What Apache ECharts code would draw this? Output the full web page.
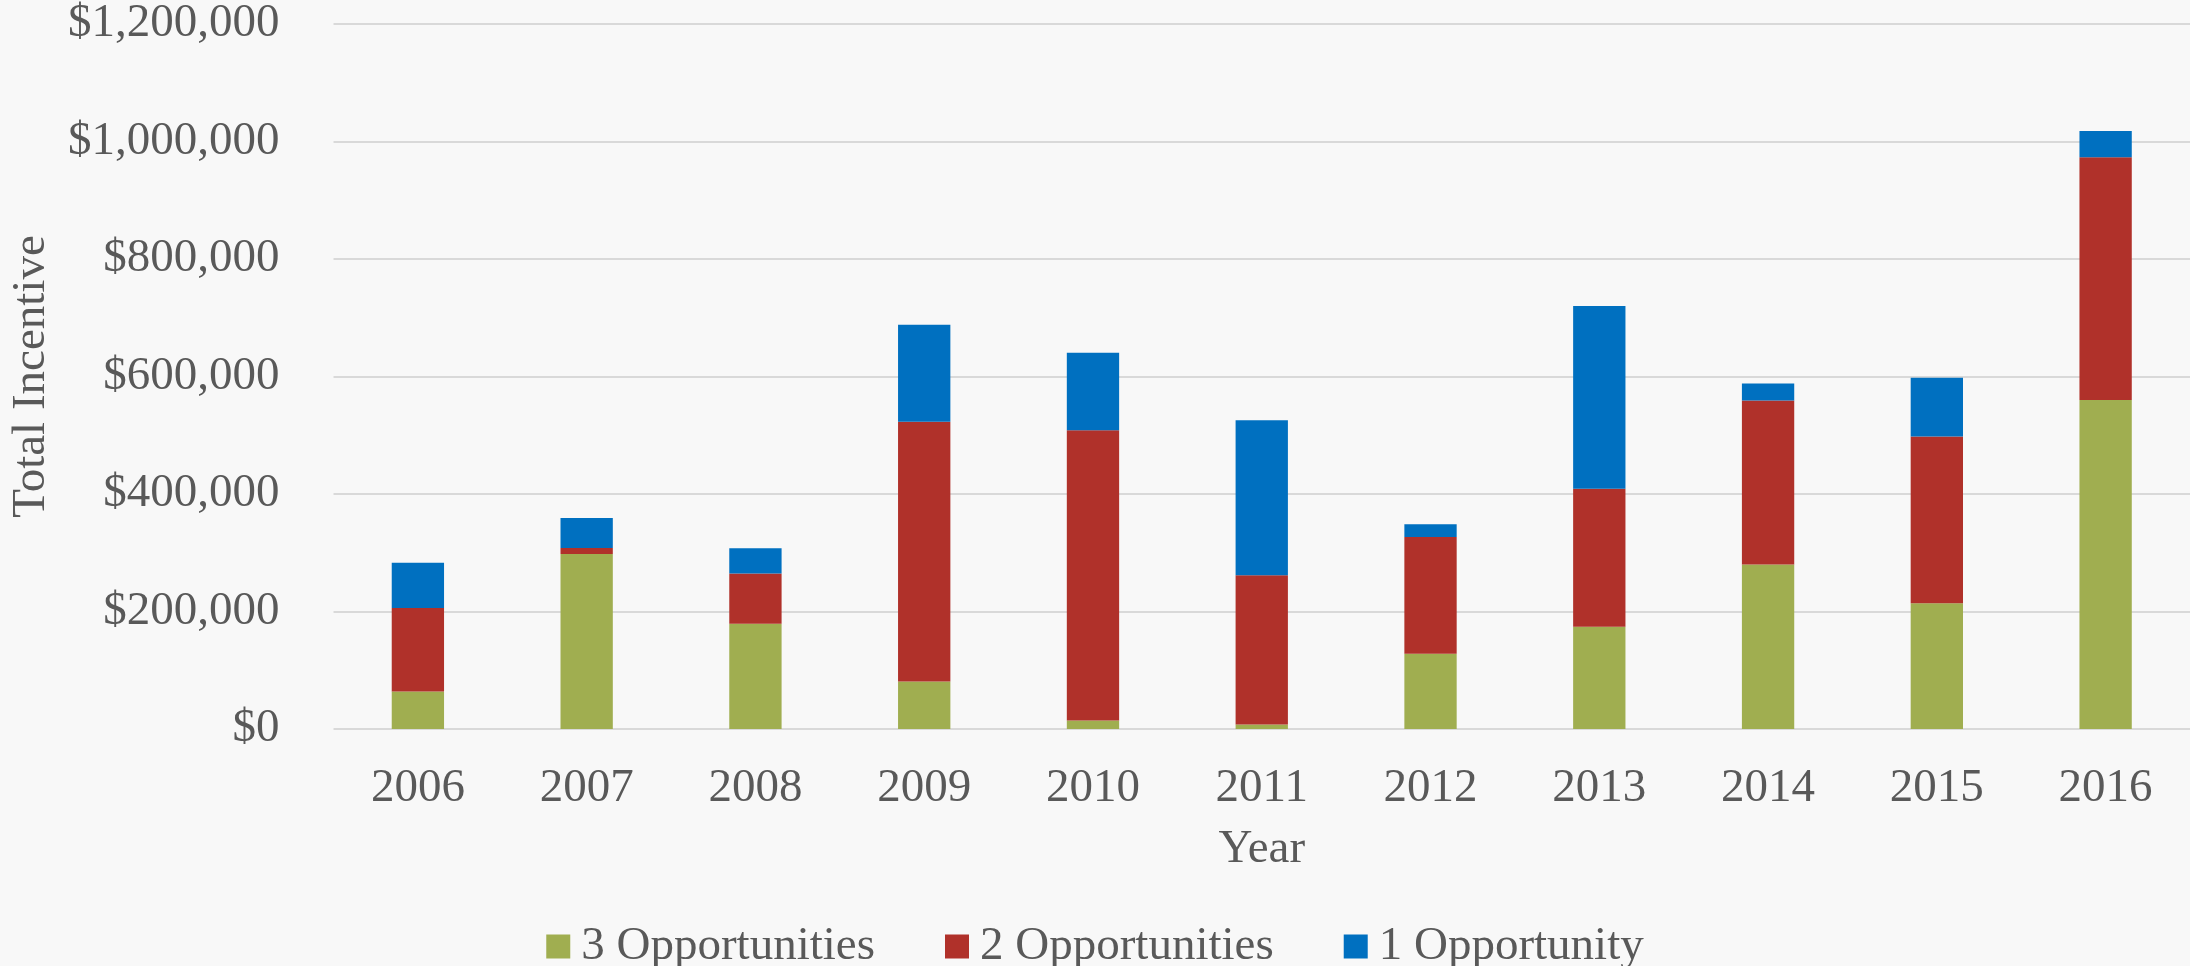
<!DOCTYPE html>
<html>
<head>
<meta charset="utf-8">
<script src="https://cdn.jsdelivr.net/npm/echarts@6/dist/echarts.min.js"></script>
<style>
    html, body { margin: 0; padding: 0; background: #f8f8f8; }
    #main { width: 2190px; height: 966px; }
</style>
</head>
<body>
<div id="main"></div>
<script>
// 年份
var years = ['2006', '2007', '2008', '2009', '2010', '2011', '2012', '2013', '2014', '2015', '2016']
// incentive per group
var threeOpp = [64000, 298000, 179000, 81000, 14500, 7700, 128000, 174000, 280000, 214000, 560000]
var twoOpp = [142000, 10000, 85500, 442000, 494000, 254000, 199000, 235000, 279000, 284000, 413000]
var oneOpp = [77000, 51000, 43000, 165000, 132000, 264000, 21500, 311000, 29000, 100000, 45000]
var seriesNames = ['3 Opportunities', '2 Opportunities', '1 Opportunity']
var yTicks = { min: 0, max: 1200000, interval: 200000 }

var font = 'Liberation Serif'
var textColor = '#595959'

var option = {
    backgroundColor: '#f8f8f8',
    textStyle: { fontFamily: font },
    color: ['#a0ae50', '#b0312a', '#0070c0'],
    grid: {
        left: 327,
        right: 0,
        top: 24,
        bottom: 237,
        containLabel: false
    },
    legend: {
        data: seriesNames,
        top: 918,
        left: 'center',
        itemWidth: 24,
        itemHeight: 24,
        itemGap: 70,
        icon: 'rect',
        textStyle: { fontFamily: font, fontSize: 47, color: textColor, padding: [0, 0, 0, 6] }
    },
    xAxis: {
        type: 'category',
        data: years,
        name: 'Year',
        nameLocation: 'middle',
        nameGap: 97,
        nameTextStyle: { fontFamily: font, fontSize: 47, color: textColor },
        axisLine: { show: false },
        axisTick: { show: false },
        axisLabel: { fontFamily: font, fontSize: 47, color: textColor, margin: 36 }
    },
    yAxis: {
        type: 'value',
        min: yTicks.min,
        max: yTicks.max,
        interval: yTicks.interval,
        name: 'Total Incentive',
        nameLocation: 'middle',
        nameGap: 302,
        nameRotate: 90,
        nameTextStyle: { fontFamily: font, fontSize: 47, color: textColor, verticalAlign: 'middle' },
        axisLine: { show: false },
        axisTick: { show: false },
        splitLine: { lineStyle: { color: '#d9d9d9', width: 2 } },
        axisLabel: {
            fontFamily: font,
            fontSize: 47,
            color: textColor,
            margin: 54,
            formatter: function (v) { return '$' + v.toLocaleString('en-US') }
        }
    },
    series: [
        { name: seriesNames[0], type: 'bar', stack: 'total', barWidth: '31%', data: threeOpp },
        { name: seriesNames[1], type: 'bar', stack: 'total', barWidth: '31%', data: twoOpp },
        { name: seriesNames[2], type: 'bar', stack: 'total', barWidth: '31%', data: oneOpp }
    ]
}

const myChart = echarts.init(document.getElementById('main'))
myChart.setOption(option)
</script>
</body>
</html>
